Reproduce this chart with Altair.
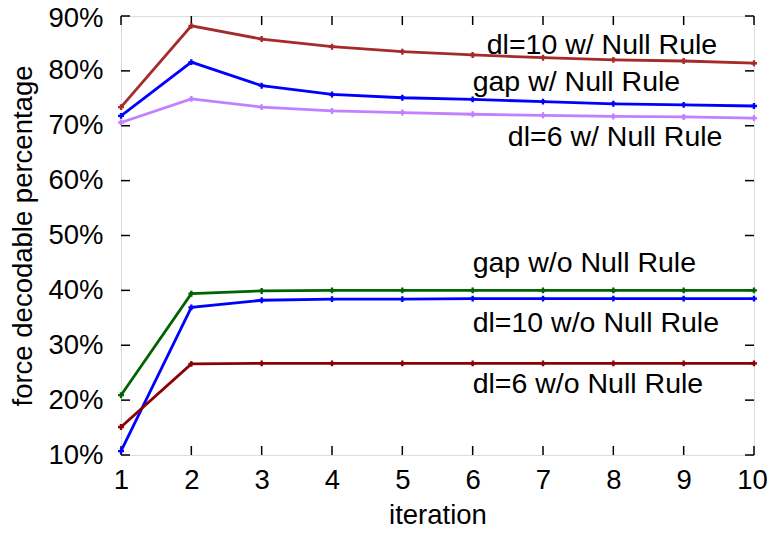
import altair as alt
import pandas as pd

iterations = [1, 2, 3, 4, 5, 6, 7, 8, 9, 10]
series_names = ["dl=10 w/ Null Rule", "gap w/ Null Rule", "dl=6 w/ Null Rule",
                "gap w/o Null Rule", "dl=10 w/o Null Rule", "dl=6 w/o Null Rule"]
series_colors = ["#a52a2a", "#0000ff", "#c080ff", "#006400", "#0000ff", "#8b0000"]

dl10_w = [73.4, 88.2, 85.8, 84.4, 83.5, 82.9, 82.4, 82.0, 81.8, 81.4]
gap_w = [71.8, 81.6, 77.3, 75.7, 75.1, 74.8, 74.4, 74.0, 73.8, 73.6]
dl6_w = [70.6, 74.9, 73.4, 72.7, 72.4, 72.1, 71.9, 71.7, 71.6, 71.4]
gap_wo = [20.9, 39.4, 39.9, 40.0, 40.0, 40.0, 40.0, 40.0, 40.0, 40.0]
dl10_wo = [10.7, 36.9, 38.2, 38.4, 38.4, 38.5, 38.5, 38.5, 38.5, 38.5]
dl6_wo = [15.1, 26.6, 26.7, 26.7, 26.7, 26.7, 26.7, 26.7, 26.7, 26.7]

label_x = [6.2, 6.0, 6.5, 6.0, 6.0, 6.0]
label_y = [84.7, 78.0, 67.9, 45.0, 34.1, 22.9]

y_ticks = [10, 20, 30, 40, 50, 60, 70, 80, 90]

all_vals = [dl10_w, gap_w, dl6_w, gap_wo, dl10_wo, dl6_wo]
rows = []
for name, vals in zip(series_names, all_vals):
    for it, v in zip(iterations, vals):
        rows.append({"series": name, "iteration": it, "value": v})
df = pd.DataFrame(rows)
labels_df = pd.DataFrame({"series": series_names, "x": label_x, "y": label_y})
xt = pd.DataFrame({"t": iterations})
yt = pd.DataFrame({"t": y_ticks})

W, H = 633, 439
FONT = "Liberation Sans"
FS = 27.5
LFS = 28.5

xscale = alt.Scale(domain=[1, 10], nice=False)
yscale = alt.Scale(domain=[10, 90], nice=False)
color = alt.Color("series:N", scale=alt.Scale(domain=series_names, range=series_colors), legend=None)

x_enc = alt.X("iteration:Q", scale=xscale, title="iteration",
              axis=alt.Axis(values=iterations, format="d", ticks=False, grid=False, domain=False,
                            labelPadding=11, titlePadding=8, labelFontSize=FS,
                            titleFontSize=FS, labelFont=FONT, titleFont=FONT,
                            titleFontWeight="normal", labelColor="black", titleColor="black",
                            labelFlush=False,
                            labelOffset={"condition": {"test": "datum.value == 10", "value": -2},
                                         "value": 0}))
y_enc = alt.Y("value:Q", scale=yscale, title="force decodable percentage",
              axis=alt.Axis(values=y_ticks, ticks=False, grid=False, domain=False,
                            labelExpr="datum.value + '%'", labelPadding=18, titlePadding=10,
                            labelFontSize=FS, titleFontSize=FS, labelFont=FONT, titleFont=FONT,
                            titleFontWeight="normal", labelColor="black", titleColor="black",
                            labelFlush=False,
                            labelOffset={"condition": {"test": "datum.value == 90", "value": 2.5},
                                         "value": 0}))

lines = alt.Chart(df).mark_line(strokeWidth=2.8).encode(
    x=x_enc, y=y_enc, color=color, detail="series:N", order="iteration:Q")
points = alt.Chart(df).mark_point(shape="cross", filled=True, size=35, opacity=1).encode(
    x=alt.X("iteration:Q", scale=xscale), y=alt.Y("value:Q", scale=yscale), color=color)

texts = alt.Chart(labels_df).mark_text(align="left", baseline="middle", font=FONT,
                                       fontSize=LFS, color="black").encode(
    x=alt.X("x:Q", scale=xscale), y=alt.Y("y:Q", scale=yscale), text="series:N")

tick_len = 9
xb = alt.Chart(xt).mark_rule(color="black", strokeWidth=1.5).encode(
    x=alt.X("t:Q", scale=xscale), y=alt.value(H), y2=alt.value(H - tick_len))
xtop = alt.Chart(xt).mark_rule(color="black", strokeWidth=1.5).encode(
    x=alt.X("t:Q", scale=xscale), y=alt.value(0), y2=alt.value(tick_len))
yl = alt.Chart(yt).mark_rule(color="black", strokeWidth=1.5).encode(
    y=alt.Y("t:Q", scale=yscale), x=alt.value(0), x2=alt.value(tick_len))
yr = alt.Chart(yt).mark_rule(color="black", strokeWidth=1.5).encode(
    y=alt.Y("t:Q", scale=yscale), x=alt.value(W), x2=alt.value(W - tick_len))

chart = alt.layer(xb, xtop, yl, yr, lines, points, texts).properties(
    width=W, height=H,
    autosize=alt.AutoSizeParams(type="none"),
    padding={"left": 113, "top": 8, "right": 13, "bottom": 74},
).configure_view(stroke="black", strokeWidth=2.2).configure(background="white")

chart.save("out.html", embed_options={"renderer": "svg", "actions": False})
